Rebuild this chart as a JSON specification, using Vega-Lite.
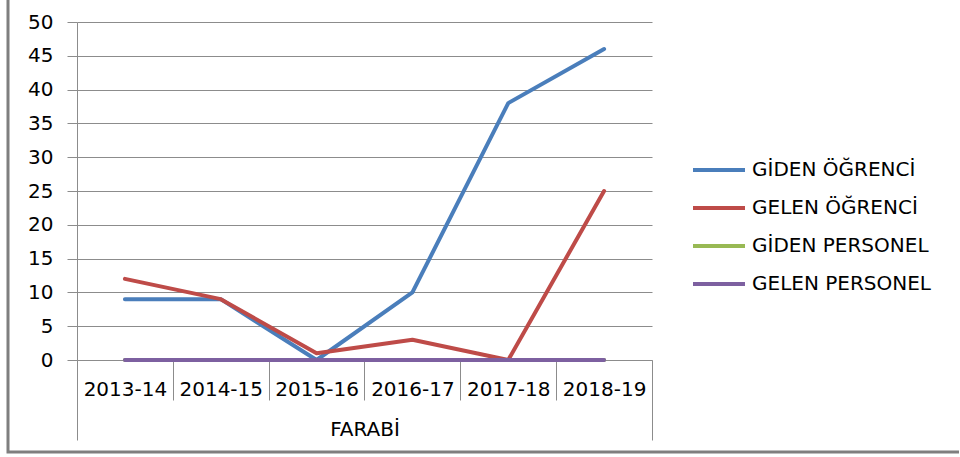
{
  "$schema": "https://vega.github.io/schema/vega-lite/v6.json",
  "width": 953,
  "height": 462,
  "autosize": {"type": "none"},
  "padding": {"left": 8, "top": -10, "right": -2, "bottom": 5},
  "background": "white",
  "config": {
    "view": {"stroke": "#7f7f7f", "strokeWidth": 3},
    "font": "DejaVu Sans"
  },
  "data": {
    "values": [
      {"year": "2013-14", "series": "GİDEN ÖĞRENCİ", "value": 9},
      {"year": "2014-15", "series": "GİDEN ÖĞRENCİ", "value": 9},
      {"year": "2015-16", "series": "GİDEN ÖĞRENCİ", "value": 0},
      {"year": "2016-17", "series": "GİDEN ÖĞRENCİ", "value": 10},
      {"year": "2017-18", "series": "GİDEN ÖĞRENCİ", "value": 38},
      {"year": "2018-19", "series": "GİDEN ÖĞRENCİ", "value": 46},
      {"year": "2013-14", "series": "GELEN ÖĞRENCİ", "value": 12},
      {"year": "2014-15", "series": "GELEN ÖĞRENCİ", "value": 9},
      {"year": "2015-16", "series": "GELEN ÖĞRENCİ", "value": 1},
      {"year": "2016-17", "series": "GELEN ÖĞRENCİ", "value": 3},
      {"year": "2017-18", "series": "GELEN ÖĞRENCİ", "value": 0},
      {"year": "2018-19", "series": "GELEN ÖĞRENCİ", "value": 25},
      {"year": "2013-14", "series": "GİDEN PERSONEL", "value": 0},
      {"year": "2014-15", "series": "GİDEN PERSONEL", "value": 0},
      {"year": "2015-16", "series": "GİDEN PERSONEL", "value": 0},
      {"year": "2016-17", "series": "GİDEN PERSONEL", "value": 0},
      {"year": "2017-18", "series": "GİDEN PERSONEL", "value": 0},
      {"year": "2018-19", "series": "GİDEN PERSONEL", "value": 0},
      {"year": "2013-14", "series": "GELEN PERSONEL", "value": 0},
      {"year": "2014-15", "series": "GELEN PERSONEL", "value": 0},
      {"year": "2015-16", "series": "GELEN PERSONEL", "value": 0},
      {"year": "2016-17", "series": "GELEN PERSONEL", "value": 0},
      {"year": "2017-18", "series": "GELEN PERSONEL", "value": 0},
      {"year": "2018-19", "series": "GELEN PERSONEL", "value": 0}
    ]
  },
  "mark": {"type": "line", "strokeWidth": 4, "strokeCap": "round", "strokeJoin": "round"},
  "encoding": {
    "x": {
      "field": "year",
      "type": "ordinal",
      "bandPosition": 0.5,
      "scale": {"type": "band", "range": [69, 644], "paddingInner": 0, "paddingOuter": 0},
      "axis": {
        "title": "FARABİ",
        "titleFontSize": 20,
        "titleFontWeight": "normal",
        "titleColor": "black",
        "titleY": 69,
        "titleBaseline": "middle",
        "offset": -92,
        "domainColor": "#8c8c8c",
        "tickColor": "#8c8c8c",
        "tickBand": "extent",
        "tickSize": {"condition": {"test": "datum.index == 1 || datum.index == -1", "value": 80}, "value": 40},
        "labelAngle": 0,
        "labelFontSize": 20,
        "labelPadding": {"condition": {"test": "datum.index == 1", "value": -61}, "value": -21},
        "labelColor": "black",
        "grid": false
      }
    },
    "y": {
      "field": "value",
      "type": "quantitative",
      "scale": {"domain": [0, 50], "range": [370, 32], "nice": false},
      "axis": {
        "title": null,
        "offset": -69,
        "values": [0, 5, 10, 15, 20, 25, 30, 35, 40, 45, 50],
        "tickSize": 10,
        "tickColor": "#8c8c8c",
        "domainColor": "#8c8c8c",
        "gridColor": "#8c8c8c",
        "labelFontSize": 20,
        "labelPadding": 14,
        "labelColor": "black"
      }
    },
    "color": {
      "field": "series",
      "type": "nominal",
      "scale": {
        "domain": ["GİDEN ÖĞRENCİ", "GELEN ÖĞRENCİ", "GİDEN PERSONEL", "GELEN PERSONEL"],
        "range": ["#4a7ebb", "#be4b48", "#98b954", "#7d60a0"]
      },
      "legend": {
        "title": null,
        "orient": "none",
        "legendX": 683,
        "legendY": 152,
        "symbolType": "stroke",
        "symbolSize": 2704,
        "symbolStrokeWidth": 4,
        "labelFontSize": 20,
        "labelOffset": 5,
        "labelLimit": 400,
        "rowPadding": -15,
        "labelColor": "black"
      }
    }
  }
}
